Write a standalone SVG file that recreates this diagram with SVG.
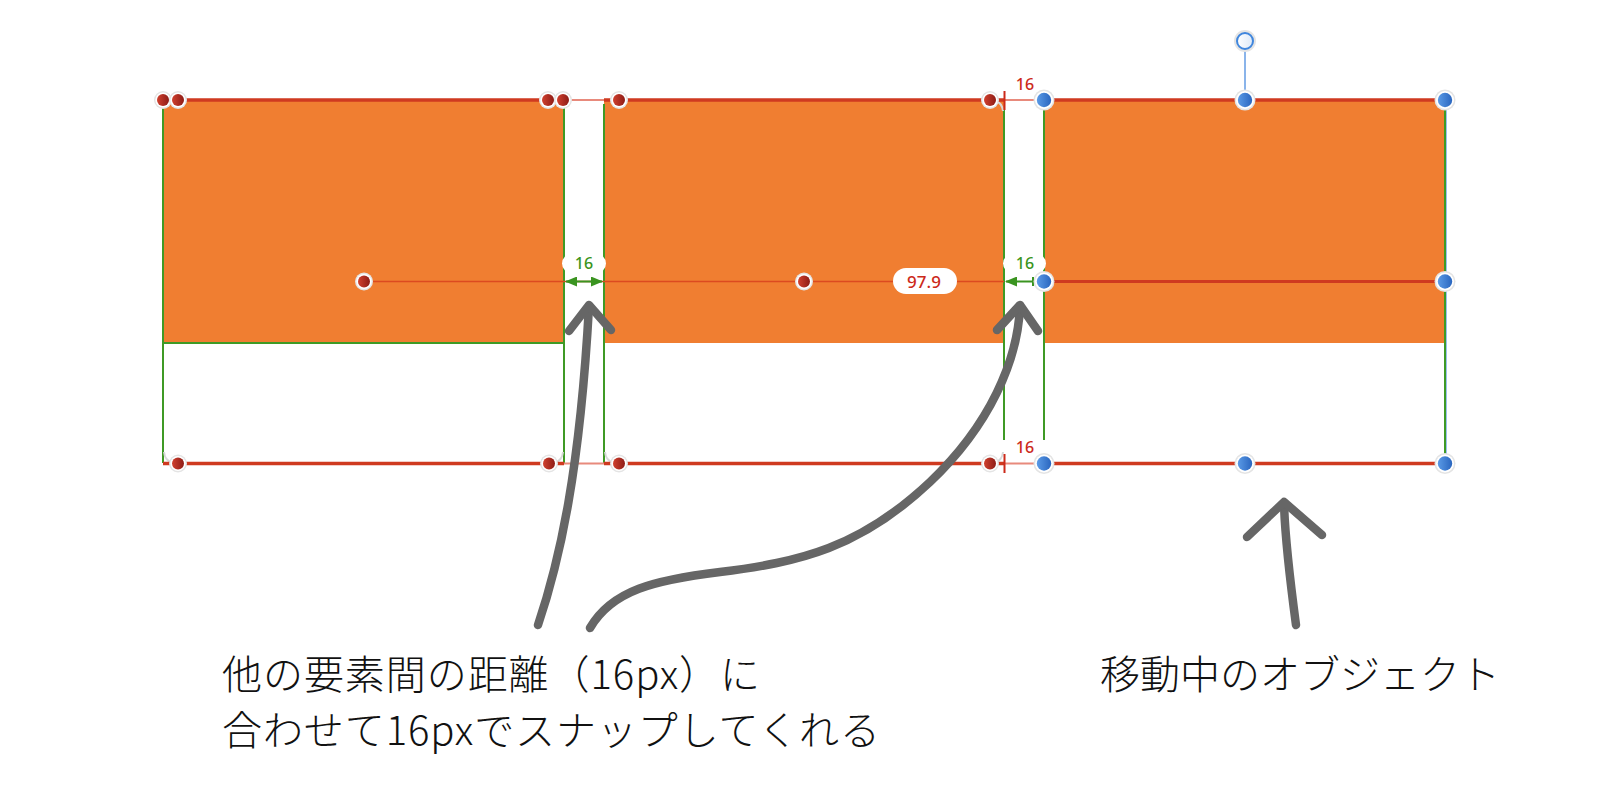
<svg xmlns="http://www.w3.org/2000/svg" xmlns:xlink="http://www.w3.org/1999/xlink" width="1600" height="810" viewBox="0 0 1600 810">
<style>
.orange{fill:#f07e31}
.green{stroke:#3f9a25;stroke-width:2;fill:none}
.redthick{stroke:#cf3a20;stroke-width:3.5;fill:none}
.redthin{stroke:#e88a7c;stroke-width:2;fill:none}
.midthin{stroke:#dc4a20;stroke-width:1.6;fill:none}
.tick{stroke:#cc2a1a;stroke-width:2}
.gtxt{font-family:"Noto Sans","Open Sans",sans-serif;font-size:16px;font-weight:500;fill:#3a9420;text-anchor:middle}
.rtxt{font-family:"Noto Sans","Open Sans",sans-serif;font-size:16px;font-weight:500;fill:#cc2a1a;text-anchor:middle}
.ntxt{font-family:"Noto Sans","Open Sans",sans-serif;font-size:17px;font-weight:500;fill:#cc2a1a;text-anchor:middle}
.pill{fill:#fff}
.arrow{stroke:#666;stroke-width:8.5;fill:none;stroke-linecap:round;stroke-linejoin:round}
.jp{font-family:"Noto Sans CJK JP","Noto Sans CJK SC",sans-serif;font-size:40px;font-weight:300;fill:#111}
.corner{stroke:#d8d8d8;stroke-width:2;fill:none}
</style>
<defs>
<linearGradient id="rg" x1="0" y1="0" x2="1" y2="0">
<stop offset="0" stop-color="#d0402e"/><stop offset="1" stop-color="#8e1c16"/>
</linearGradient>
<linearGradient id="bg" x1="0" y1="0" x2="1" y2="0">
<stop offset="0" stop-color="#5a9ae6"/><stop offset="1" stop-color="#2a66bf"/>
</linearGradient>
<linearGradient id="wg" x1="0" y1="0" x2="1" y2="0">
<stop offset="0" stop-color="#ffffff"/><stop offset="1" stop-color="#dde9f8"/>
</linearGradient>
<g id="rh"><circle r="9" fill="#e4e4e4"/><circle r="7.6" fill="#fff"/><circle r="6" fill="url(#rg)"/></g>
<g id="bh"><circle r="10.5" fill="#e4e4e4"/><circle r="9" fill="#fff"/><circle r="7.2" fill="url(#bg)"/></g>
<marker id="gah" viewBox="0 0 12 10" refX="11" refY="5" markerWidth="12" markerHeight="10" markerUnits="userSpaceOnUse" orient="auto-start-reverse"><path d="M0,0 L12,5 L0,10 Z" fill="#3a9420"/></marker>
</defs>

<g id="rect1">
<rect class="orange" x="163" y="100" width="401" height="243"/>
<path class="green" d="M163,100 V463 M564,100 V463 M163,343 H564"/>
<path class="corner" d="M164,452 Q165,461 172,462 M563,452 Q562,461 555,462"/>
</g>
<g id="rect2">
<rect class="orange" x="604" y="100" width="400" height="243"/>
<path class="green" d="M604,104 V463 M1004,110 V440"/>
<path class="corner" d="M605,452 Q606,461 613,462 M1003,452 Q1002,461 995,462 M1003,111 Q1002,103 996,101"/>
</g>
<g id="rect3">
<rect class="orange" x="1044" y="100" width="401" height="243"/>
<path class="green" d="M1044,104 V440 M1445,104 V456"/>
<path d="M1446.5,104 V456" stroke="#9cc0ee" stroke-width="1"/>
</g>

<g id="guides">
<path class="redthick" d="M163,100 H564 M604,100 H1004 M1044,100 H1445"/>
<path class="redthin" d="M564,100 H604 M1004,100 H1044 M564,463.5 H604 M1004,463.5 H1044"/>
<path class="redthick" d="M163,463.5 H564 M604,463.5 H1004 M1044,463.5 H1445"/>
<path class="midthin" d="M363,281.5 H1004"/>
<path class="redthick" d="M1044,281.5 H1445" style="stroke-width:3"/>
<path class="tick" d="M1004.5,91 V110 M1004.5,454 V473"/>
</g>

<g id="dim-top">
<text class="rtxt" x="1025" y="90">16</text>
</g>
<g id="dim-bottom">
<rect class="pill" x="1006" y="436" width="37" height="22" rx="6"/>
<text class="rtxt" x="1025" y="453">16</text>
</g>
<g id="dim-gap1">
<rect class="pill" x="562" y="254" width="44" height="19" rx="9.5"/>
<text class="gtxt" x="584" y="269">16</text>
<line x1="566" y1="281.5" x2="602" y2="281.5" stroke="#3a9420" stroke-width="2" marker-start="url(#gah)" marker-end="url(#gah)"/>
</g>
<g id="dim-gap2">
<rect class="pill" x="1003" y="254" width="43" height="19" rx="9.5"/>
<text class="gtxt" x="1025" y="269">16</text>
<line x1="1033" y1="281.5" x2="1006" y2="281.5" stroke="#3a9420" stroke-width="2" marker-end="url(#gah)"/>
<line x1="1033" y1="277" x2="1033" y2="286" stroke="#3a9420" stroke-width="2"/>
</g>
<g id="dim-center">
<rect class="pill" x="893" y="268" width="64" height="26" rx="13"/>
<text class="ntxt" x="924" y="287.5">97.9</text>
</g>

<g id="handles">
<use xlink:href="#rh" x="163" y="100"/>
<use xlink:href="#rh" x="178" y="100"/>
<use xlink:href="#rh" x="548" y="100"/>
<use xlink:href="#rh" x="563" y="100"/>
<use xlink:href="#rh" x="619" y="100"/>
<use xlink:href="#rh" x="990" y="100"/>
<use xlink:href="#rh" x="178" y="463.5"/>
<use xlink:href="#rh" x="549" y="463.5"/>
<use xlink:href="#rh" x="619" y="463.5"/>
<use xlink:href="#rh" x="990" y="463.5"/>
<use xlink:href="#rh" x="364" y="281.5"/>
<use xlink:href="#rh" x="804" y="281.5"/>
<line x1="1245" y1="49" x2="1245" y2="92" stroke="#8ab4ea" stroke-width="2"/>
<circle cx="1245" cy="41" r="11" fill="#e4e4e4"/>
<circle cx="1245" cy="41" r="8" fill="url(#wg)" stroke="#3f86dd" stroke-width="2"/>
<use xlink:href="#bh" x="1044" y="100"/>
<use xlink:href="#bh" x="1245" y="100"/>
<use xlink:href="#bh" x="1445" y="100"/>
<use xlink:href="#bh" x="1044" y="281.5"/>
<use xlink:href="#bh" x="1445" y="281.5"/>
<use xlink:href="#bh" x="1044" y="463.5"/>
<use xlink:href="#bh" x="1245" y="463.5"/>
<use xlink:href="#bh" x="1445" y="463.5"/>
</g>

<g id="connectors">
<path class="arrow" d="M538,625 C560,560 580,470 589,306"/>
<path class="arrow" d="M569,331 L589,305 L611,330"/>
<path class="arrow" d="M590,628 C612,590 655,580 720,572 C800,562 860,548 930,482 C990,425 1018,360 1020,306"/>
<path class="arrow" d="M997,330 L1020,305 L1038,331"/>
<path class="arrow" d="M1296,625 C1290,580 1285,540 1284,503"/>
<path class="arrow" d="M1247,537 L1284,502 L1322,535"/>
</g>

<g id="label-left">
<text class="jp" x="222" y="689" textLength="538" lengthAdjust="spacing">他の要素間の距離（16px）に</text>
<text class="jp" x="222" y="745" textLength="658" lengthAdjust="spacing">合わせて16pxでスナップしてくれる</text>
</g>
<g id="label-right">
<text class="jp" x="1100" y="689">移動中のオブジェクト</text>
</g>
</svg>
